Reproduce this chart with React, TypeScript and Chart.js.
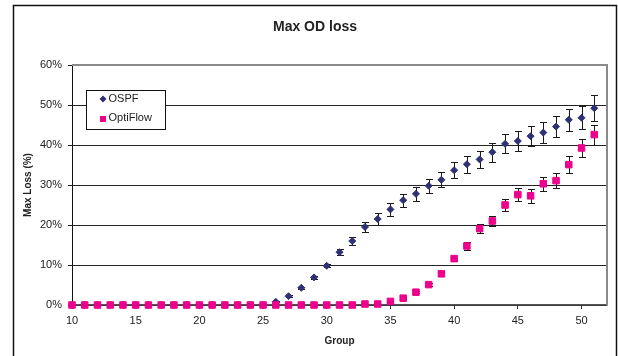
import React, { useEffect, useRef } from "react";
import { Chart, registerables } from "chart.js";

Chart.register(...registerables);

const chartTitle = "Max OD loss";
const xTitle = "Group";
const yTitle = "Max Loss (%)";

const groups = [10, 11, 12, 13, 14, 15, 16, 17, 18, 19, 20, 21, 22, 23, 24, 25, 26, 27, 28, 29, 30, 31, 32, 33, 34, 35, 36, 37, 38, 39, 40, 41, 42, 43, 44, 45, 46, 47, 48, 49, 50, 51];

const ospfLoss = [0, 0, 0, 0, 0, 0, 0, 0, 0, 0, 0, 0, 0, 0, 0, 0, 0.8, 2.2, 4.3, 6.9, 9.8, 13.2, 16.0, 19.5, 21.5, 23.9, 26.2, 27.8, 29.8, 31.3, 33.7, 35.2, 36.4, 38.2, 40.3, 41.0, 42.2, 43.1, 44.6, 46.3, 46.8, 49.2];
const ospfErr = [0, 0, 0, 0, 0, 0, 0, 0, 0, 0, 0, 0, 0, 0, 0, 0, 0.15, 0.2, 0.25, 0.3, 0.4, 0.8, 1.0, 1.2, 1.4, 1.6, 1.6, 1.75, 1.8, 1.9, 2.0, 2.1, 2.2, 2.4, 2.4, 2.4, 2.5, 2.6, 2.6, 2.75, 2.9, 3.25];

const optiLoss = [0, 0, 0, 0, 0, 0, 0, 0, 0, 0, 0, 0, 0, 0, 0, 0, 0, 0, 0, 0, 0, 0, 0, 0.25, 0.25, 0.9, 1.7, 3.2, 5.1, 7.8, 11.6, 14.75, 19.1, 21.0, 25.0, 27.6, 27.3, 30.3, 31.1, 35.1, 39.25, 42.6];
const optiErr = [0, 0, 0, 0, 0, 0, 0, 0, 0, 0, 0, 0, 0, 0, 0, 0, 0, 0, 0, 0, 0, 0, 0, 0, 0, 0.2, 0.25, 0.3, 0.4, 0.5, 0.6, 0.9, 1.2, 1.2, 1.6, 1.7, 1.7, 1.8, 1.8, 2.1, 2.3, 2.5];

const seriesNames = ["OSPF", "OptiFlow"];
const seriesColors = ["#2F3174", "#EC008C"];

const FONT = "'Liberation Sans', Arial, Helvetica, sans-serif";

const errorBarsPlugin = {
  id: "errorBars",
  beforeDatasetsDraw(chart: any) {
    const { ctx, chartArea } = chart;
    const xs = chart.scales.x;
    const ys = chart.scales.y;
    ctx.save();
    ctx.strokeStyle = "#8a8a8a";
    ctx.lineWidth = 2;
    ctx.beginPath();
    ctx.moveTo(chartArea.left, chartArea.top);
    ctx.lineTo(chartArea.right, chartArea.top);
    ctx.lineTo(chartArea.right, chartArea.bottom);
    ctx.stroke();
    ctx.restore();

    chart.data.datasets.forEach((ds: any) => {
      const errs: number[] = ds.errors;
      if (!errs) return;
      ctx.save();
      ctx.strokeStyle = "#1a1a1a";
      ctx.lineWidth = 1;
      ds.data.forEach((p: any, j: number) => {
        const e = errs[j];
        if (!e) return;
        const px = Math.round(xs.getPixelForValue(p.x)) + 0.5;
        const top = Math.round(ys.getPixelForValue(p.y + e)) + 0.5;
        const bot = Math.round(ys.getPixelForValue(p.y - e)) + 0.5;
        ctx.beginPath();
        ctx.moveTo(px, top);
        ctx.lineTo(px, bot);
        ctx.moveTo(px - 3.5, top);
        ctx.lineTo(px + 3.5, top);
        ctx.moveTo(px - 3.5, bot);
        ctx.lineTo(px + 3.5, bot);
        ctx.stroke();
      });
      ctx.restore();
    });
  },
};

const decorPlugin = {
  id: "decor",
  afterDraw(chart: any) {
    const { ctx } = chart;
    ctx.save();
    ctx.strokeStyle = "#111";
    ctx.lineWidth = 1.5;
    ctx.strokeRect(13.5, 5.5, 603, 360);
    ctx.fillStyle = "#222";
    ctx.font = `bold 14px ${FONT}`;
    ctx.textAlign = "center";
    ctx.textBaseline = "middle";
    ctx.fillText(chartTitle, 315, 27);
    ctx.fillStyle = "#fff";
    ctx.fillRect(86.5, 90.5, 79, 39);
    ctx.strokeStyle = "#111";
    ctx.lineWidth = 1;
    ctx.strokeRect(86.5, 90.5, 79, 39);
    ctx.font = `11px ${FONT}`;
    ctx.textAlign = "left";
    const names = chart.data.datasets.map((d: any) => d.label);
    const colors = chart.data.datasets.map((d: any) => d.backgroundColor);
    const i0 = names.indexOf(seriesNames[0]);
    const i1 = names.indexOf(seriesNames[1]);
    ctx.fillStyle = colors[i0];
    ctx.beginPath();
    ctx.moveTo(103, 95.5);
    ctx.lineTo(106.5, 99);
    ctx.lineTo(103, 102.5);
    ctx.lineTo(99.5, 99);
    ctx.closePath();
    ctx.fill();
    ctx.fillStyle = "#222";
    ctx.fillText(names[i0], 108.5, 99);
    ctx.fillStyle = colors[i1];
    ctx.fillRect(100, 116, 6, 6);
    ctx.fillStyle = "#222";
    ctx.fillText(names[i1], 108.5, 117.5);
    ctx.restore();
  },
};

export default function App() {
  const ref = useRef<HTMLCanvasElement | null>(null);

  useEffect(() => {
    if (!ref.current) return;
    const ospfData = groups.map((g, i) => ({ x: g, y: ospfLoss[i] }));
    const optiData = groups.map((g, i) => ({ x: g, y: optiLoss[i] }));
    const chart = new Chart(ref.current, {
      type: "scatter",
      data: {
        datasets: [
          {
            label: seriesNames[0],
            data: ospfData,
            errors: ospfErr,
            backgroundColor: seriesColors[0],
            borderColor: seriesColors[0],
            borderWidth: 1,
            pointStyle: "rectRot",
            pointRadius: 3.5,
            order: 1,
            clip: false,
          } as any,
          {
            label: seriesNames[1],
            data: optiData,
            errors: optiErr,
            backgroundColor: seriesColors[1],
            borderColor: seriesColors[1],
            borderWidth: 1,
            pointStyle: "rect",
            pointRadius: 4.6,
            order: 0,
            clip: false,
          } as any,
        ],
      },
      options: {
        responsive: false,
        animation: false,
        layout: { padding: { left: 14, top: 65, right: 11, bottom: 0 } },
        plugins: {
          legend: { display: false },
          title: { display: false },
          tooltip: { enabled: false },
        },
        scales: {
          x: {
            type: "linear",
            min: 10,
            max: 52,
            afterBuildTicks: (s: any) => {
              s.ticks = s.ticks.filter((t: any) => t.value % 5 === 0);
            },
            afterFit: (s: any) => {
              s.height = 51;
            },
            ticks: {
              stepSize: 5,
              padding: 5,
              color: "#222",
              font: { family: FONT, size: 11 },
              maxRotation: 0,
            },
            grid: {
              drawOnChartArea: false,
              drawTicks: true,
              tickLength: 4,
              color: "#333",
            },
            border: { display: true, color: "#555", width: 1.5 },
            title: {
              display: true,
              text: xTitle,
              color: "#222",
              font: { family: FONT, size: 10, weight: "bold" },
              padding: { top: 0, bottom: 9 },
            },
          },
          y: {
            min: 0,
            max: 60,
            afterFit: (s: any) => {
              s.width = 58;
            },
            ticks: {
              stepSize: 10,
              padding: 6,
              color: "#222",
              font: { family: FONT, size: 11 },
              callback: (v: any) => `${v}%`,
            },
            grid: {
              color: "#222",
              lineWidth: 1,
              drawTicks: true,
              tickLength: 4,
            },
            border: { display: true, color: "#111", width: 1 },
            title: {
              display: true,
              text: yTitle,
              color: "#222",
              font: { family: FONT, size: 10, weight: "bold" },
              padding: { top: 8, bottom: 0 },
            },
          },
        },
      },
      plugins: [errorBarsPlugin, decorPlugin],
    } as any);
    return () => chart.destroy();
  }, []);

  return (
    <div style={{ position: "absolute", left: 0, top: 0, width: 618, height: 356, background: "#fff" }}>
      <canvas ref={ref} width={618} height={356} style={{ display: "block" }} />
    </div>
  );
}
